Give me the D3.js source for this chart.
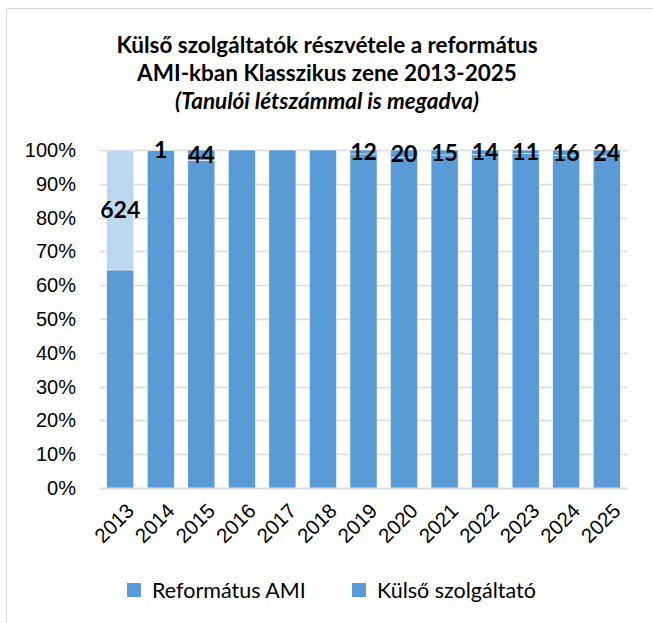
<!DOCTYPE html>
<html>
<head>
<meta charset="utf-8">
<script src="https://cdn.jsdelivr.net/npm/d3@7"></script>
<style>
  body { margin: 0; background: #fff; }
  svg { font-family: Lato, "Open Sans", sans-serif; }
</style>
</head>
<body>
<div id="chart"></div>
<script>
// Data
var years = ["2013", "2014", "2015", "2016", "2017", "2018", "2019", "2020", "2021", "2022", "2023", "2024", "2025"];
var reformatusAMI = [1134, 1100, 1400, 1100, 1000, 1000, 1000, 900, 1000, 1000, 1100, 1000, 1300];
var kulsoSzolgaltato = [624, 1, 44, 0, 0, 0, 12, 20, 15, 14, 11, 16, 24];
var seriesNames = ["Református AMI", "Külső szolgáltató"];
var yTicks = [0, 0.1, 0.2, 0.3, 0.4, 0.5, 0.6, 0.7, 0.8, 0.9, 1];

var width = 653;
var height = 623;
var margin = { top: 150, right: 26, bottom: 135, left: 100 };

var mainColor = "#5B9BD5";
var lightColor = "#BDD7EE";

var svg = d3.select("#chart")
    .append("svg")
    .attr("width", width)
    .attr("height", height);

// Chart border
svg.append("rect")
    .attr("x", 6.5)
    .attr("y", 8.5)
    .attr("width", 700)
    .attr("height", 700)
    .attr("fill", "none")
    .attr("stroke", "#d9d9d9");

// Title
var title = svg.append("text")
    .attr("text-anchor", "middle")
    .attr("font-weight", "bold")
    .style("font-size", "22.5px")
    .attr("fill", "#000");
title.append("tspan").attr("x", 327).attr("y", 53).text("Külső szolgáltatók részvétele a református");
title.append("tspan").attr("x", 327).attr("y", 81).text("AMI-kban Klasszikus zene 2013-2025");
title.append("tspan").attr("x", 327).attr("y", 109).attr("font-style", "italic").text("(Tanulói létszámmal is megadva)");

// Stack as percentages
var rows = years.map(function (y, i) {
    var total = reformatusAMI[i] + kulsoSzolgaltato[i];
    return { year: y, ref: reformatusAMI[i] / total, kulso: kulsoSzolgaltato[i] / total, count: kulsoSzolgaltato[i] };
});
var stack = d3.stack().keys(["ref", "kulso"]);
var layers = stack(rows);

var x = d3.scaleBand()
    .domain(years)
    .range([margin.left, width - margin.right])
    .paddingInner(0.333)
    .paddingOuter(0.166);

var y = d3.scaleLinear()
    .domain([0, 1])
    .range([height - margin.bottom, margin.top]);

// Gridlines
svg.append("g")
    .selectAll("line")
    .data(yTicks)
    .enter()
    .append("line")
    .attr("x1", margin.left)
    .attr("x2", width - margin.right)
    .attr("y1", function (d) { return Math.round(y(d)) + 0.5; })
    .attr("y2", function (d) { return Math.round(y(d)) + 0.5; })
    .attr("stroke", "#d9d9d9")
    .attr("stroke-width", 1.5);

// Y axis labels
var yAxis = d3.axisLeft(y)
    .tickValues(yTicks)
    .tickFormat(d3.format(".0%"))
    .tickSize(0)
    .tickPadding(24);
var yg = svg.append("g")
    .attr("transform", "translate(" + margin.left + ",0)")
    .call(yAxis);
yg.select(".domain").remove();
yg.selectAll("text")
    .style("font-size", "20px")
    .attr("fill", "#000");

// Bars
svg.append("g")
    .selectAll("g")
    .data(layers)
    .enter()
    .append("g")
    .each(function (layer) {
        d3.select(this).selectAll("rect")
            .data(layer)
            .enter()
            .append("rect")
            .attr("x", function (d) { return x(d.data.year); })
            .attr("width", x.bandwidth())
            .attr("y", function (d) { return y(d[1]); })
            .attr("height", function (d) { return y(d[0]) - y(d[1]); })
            .attr("fill", function (d, i) {
                return (layer.key === "kulso" && i === 0) ? lightColor : mainColor;
            })
            .attr("stroke", "#fff")
            .attr("stroke-width", 0.5);
    });

// X axis
var xAxis = d3.axisBottom(x).tickSize(0).tickPadding(10);
var xg = svg.append("g")
    .attr("transform", "translate(0," + y(0) + ")")
    .call(xAxis);
xg.select(".domain").attr("stroke", "#d9d9d9").attr("stroke-width", 1.5);
xg.selectAll("text")
    .style("font-size", "20.5px")
    .attr("fill", "#000")
    .attr("text-anchor", "end")
    .attr("dy", "0")
    .attr("transform", "translate(8,17) rotate(-45)");

// Data labels on the Külső szolgáltató segment
svg.append("g")
    .selectAll("text")
    .data(layers[1].filter(function (d) { return d.data.count > 0; }))
    .enter()
    .append("text")
    .attr("x", function (d) { return x(d.data.year) + x.bandwidth() / 2; })
    .attr("y", function (d) { return y((d[0] + d[1]) / 2); })
    .attr("dy", "0.35em")
    .attr("text-anchor", "middle")
    .attr("font-weight", "bold")
    .style("font-size", "23px")
    .attr("fill", "#000")
    .text(function (d) { return d.data.count; });

// Legend
var legendX = [127, 352];
var legend = svg.append("g")
    .selectAll("g")
    .data(seriesNames)
    .enter()
    .append("g")
    .attr("transform", function (d, i) { return "translate(" + legendX[i] + ",583)"; });
legend.append("rect")
    .attr("width", 14)
    .attr("height", 14)
    .attr("fill", mainColor);
legend.append("text")
    .attr("x", 25)
    .attr("y", 7)
    .attr("dy", "0.35em")
    .style("font-size", "21.5px")
    .attr("fill", "#000")
    .text(function (d) { return d; });
</script>
</body>
</html>
